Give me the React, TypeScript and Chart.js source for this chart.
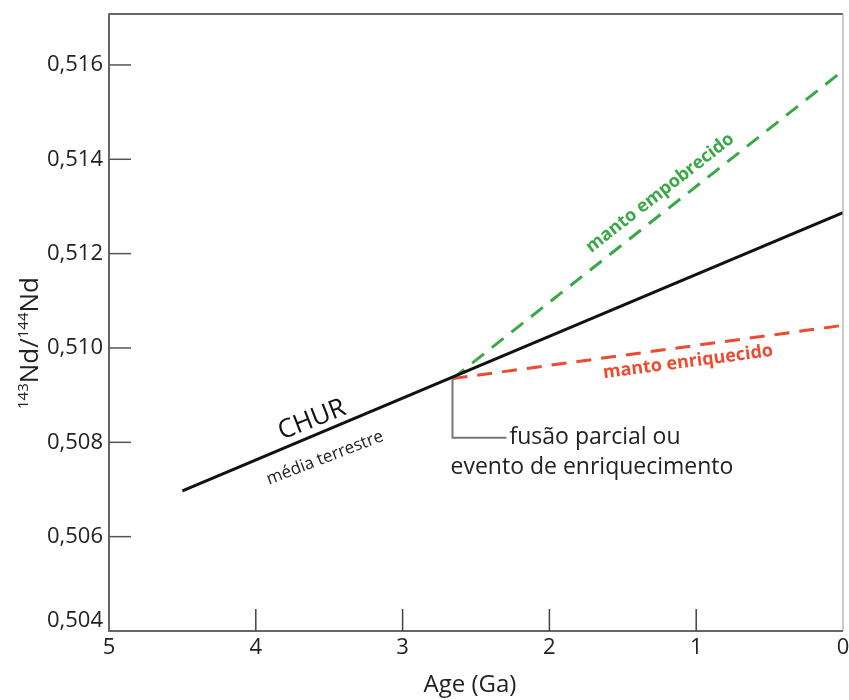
import React, { useEffect, useRef } from 'react';
import { Chart, registerables } from 'chart.js';
Chart.register(...registerables);

const xTicks = [5, 4, 3, 2, 1, 0];
const yTicks = [0.504, 0.506, 0.508, 0.51, 0.512, 0.514, 0.516];
const churAge = [4.5, 0];
const churNd = [0.50697, 0.51287];
const depletedAge = [2.66, 0];
const depletedNd = [0.50935, 0.51588];
const enrichedAge = [2.66, 0];
const enrichedNd = [0.50935, 0.51048];
const eventAge = 2.66;
const eventNd = 0.50935;

const FONT = '"Open Sans", "Liberation Sans", sans-serif';
const GREEN = '#3aa845';
const RED = '#ee4a30';

const pts = (xs: number[], ys: number[]) => xs.map((v, i) => ({ x: v, y: ys[i] }));

function rtext(ctx: CanvasRenderingContext2D, s: string, cx: number, cy: number, deg: number, font: string, color: string) {
  ctx.save();
  ctx.translate(cx, cy);
  ctx.rotate((deg * Math.PI) / 180);
  ctx.font = font;
  ctx.fillStyle = color;
  ctx.textAlign = 'center';
  ctx.textBaseline = 'middle';
  ctx.fillText(s, 0, 0);
  ctx.restore();
}

const annot = {
  id: 'annot',
  afterDraw(chart: any) {
    const { ctx, chartArea: a, scales } = chart;
    const x = scales.x, y = scales.y;
    ctx.save();
    const line = (x1: number, y1: number, x2: number, y2: number, c: string, w: number) => {
      ctx.beginPath();
      ctx.strokeStyle = c;
      ctx.lineWidth = w;
      ctx.moveTo(x1, y1);
      ctx.lineTo(x2, y2);
      ctx.stroke();
    };
    // frame
    line(a.left, a.top, a.right, a.top, '#333', 1.5);
    line(a.right, a.top, a.right, a.bottom, '#aaa', 1.2);
    line(a.left, a.top - 0.75, a.left, a.bottom + 1, '#666', 2);
    line(a.left - 1, a.bottom, a.right, a.bottom, '#666', 2);
    // inward ticks
    xTicks.forEach((v) => {
      if (v !== 5 && v !== 0) {
        const px = x.getPixelForValue(v);
        line(px, a.bottom, px, a.bottom - 22, '#444', 1.5);
      }
    });
    yTicks.forEach((v) => {
      if (v !== 0.504) {
        const py = y.getPixelForValue(v);
        line(a.left, py, a.left + 22, py, '#555', 1.5);
      }
    });
    // y tick labels (drawn here so the lowest can sit above the axis corner)
    ctx.font = `22px ${FONT}`;
    ctx.fillStyle = '#222';
    ctx.textAlign = 'right';
    ctx.textBaseline = 'middle';
    yTicks.forEach((v) => {
      const py = y.getPixelForValue(v) - (v === 0.504 ? 10 : 0);
      ctx.fillText(v.toFixed(3).replace('.', ','), a.left - 6, py);
    });
    // connector for event
    const ex = x.getPixelForValue(eventAge);
    const ey = y.getPixelForValue(eventNd);
    ctx.beginPath();
    ctx.strokeStyle = '#777';
    ctx.lineWidth = 2;
    ctx.moveTo(ex, ey);
    ctx.lineTo(ex, ey + 59);
    ctx.lineTo(ex + 54, ey + 59);
    ctx.stroke();

    ctx.textAlign = 'left';
    ctx.textBaseline = 'middle';
    ctx.fillStyle = '#222';
    ctx.font = `23px ${FONT}`;
    ctx.fillText('fusão parcial ou', ex + 57, ey + 59);
    ctx.fillText('evento de enriquecimento', ex - 2, ey + 89);

    rtext(ctx, 'CHUR', 312, 420, -21.5, `26px ${FONT}`, '#111');
    rtext(ctx, 'média terrestre', 325, 458, -21, `17px ${FONT}`, '#222');
    rtext(ctx, 'manto empobrecido', 660, 193, -38, `bold 18px ${FONT}`, GREEN);
    rtext(ctx, 'manto enriquecido', 688, 362, -7.5, `bold 18px ${FONT}`, RED);

    // x axis title
    ctx.font = `24px ${FONT}`;
    ctx.fillStyle = '#222';
    ctx.textAlign = 'center';
    ctx.textBaseline = 'middle';
    ctx.fillText('Age (Ga)', 470, 685);

    // y axis title with superscripts
    ctx.save();
    ctx.translate(38, 0);
    ctx.rotate(-Math.PI / 2);
    const big = `26px ${FONT}`;
    const small = `15px ${FONT}`;
    const parts: [string, boolean][] = [['143', true], ['Nd/', false], ['144', true], ['Nd', false]];
    let total = 0;
    parts.forEach(([s, sup]) => { ctx.font = sup ? small : big; total += ctx.measureText(s).width; });
    let cx = -343 - total / 2;
    ctx.textAlign = 'left';
    ctx.textBaseline = 'alphabetic';
    ctx.fillStyle = '#222';
    parts.forEach(([s, sup]) => {
      ctx.font = sup ? small : big;
      ctx.fillText(s, cx, sup ? -10 : 0);
      cx += ctx.measureText(s).width;
    });
    ctx.restore();

    ctx.restore();
  },
};

export default function App() {
  const ref = useRef<HTMLCanvasElement>(null);
  useEffect(() => {
    document.body.style.margin = '0';
    const chart = new Chart(ref.current!, {
      type: 'line',
      data: {
        datasets: [
          {
            data: pts(churAge, churNd),
            borderColor: '#111',
            borderWidth: 3,
            pointRadius: 0,
          },
          {
            data: pts(depletedAge, depletedNd),
            borderColor: GREEN,
            borderWidth: 3,
            borderDash: [15, 10],
            pointRadius: 0,
          },
          {
            data: pts(enrichedAge, enrichedNd),
            borderColor: RED,
            borderWidth: 3,
            borderDash: [15, 10],
            pointRadius: 0,
          },
        ],
      },
      options: {
        animation: false,
        responsive: true,
        maintainAspectRatio: false,
        layout: { padding: { top: 14, right: 6, left: 0, bottom: 0 } },
        plugins: { legend: { display: false }, tooltip: { enabled: false } },
        scales: {
          x: {
            type: 'linear',
            reverse: true,
            min: 0,
            max: 5,
            grid: { display: false, drawTicks: false },
            border: { display: false },
            afterBuildTicks: (s: any) => { s.ticks = xTicks.map((v) => ({ value: v })); },
            afterFit: (s: any) => { s.height = 69; s.paddingLeft = 0; s.paddingRight = 0; },
            ticks: {
              padding: 4,
              maxRotation: 0,
              autoSkip: false,
              color: '#222',
              font: { family: FONT, size: 22 },
              callback: (v: any) => String(v),
            },
          },
          y: {
            type: 'linear',
            min: 0.504,
            max: 0.51708,
            grid: { display: false, drawTicks: false },
            border: { display: false },
            afterBuildTicks: (s: any) => { s.ticks = yTicks.map((v) => ({ value: v })); },
            afterFit: (s: any) => { s.width = 109; s.paddingTop = 0; s.paddingBottom = 0; },
            ticks: {
              display: false,
              padding: 6,
              autoSkip: false,
            },
          },
        },
      },
      plugins: [annot],
    } as any);
    return () => chart.destroy();
  }, []);
  return (
    <div style={{ position: 'absolute', left: 0, top: 0, width: 849, height: 700, background: '#fff' }}>
      <canvas ref={ref} />
    </div>
  );
}
